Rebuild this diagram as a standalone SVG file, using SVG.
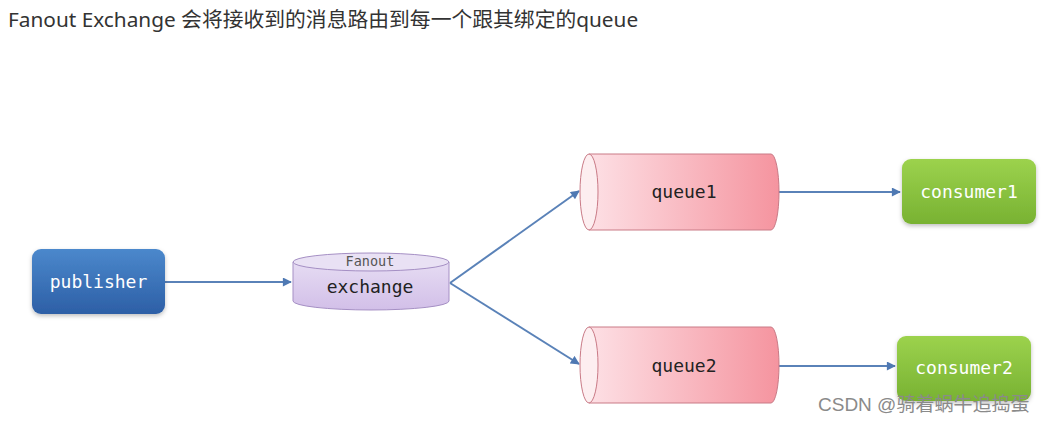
<svg xmlns="http://www.w3.org/2000/svg" width="1044" height="424" viewBox="0 0 1044 424">
<defs>
<linearGradient id="gBlue" x1="0" y1="0" x2="0" y2="1"><stop offset="0" stop-color="#4b88cc"/><stop offset="1" stop-color="#2d5fa6"/></linearGradient>
<linearGradient id="gGreen" x1="0" y1="0" x2="0" y2="1"><stop offset="0" stop-color="#9cd24d"/><stop offset="1" stop-color="#78b232"/></linearGradient>
<linearGradient id="gPurple" x1="0" y1="0" x2="0" y2="1"><stop offset="0" stop-color="#e6dcf3"/><stop offset="1" stop-color="#d2bfe8"/></linearGradient>
<linearGradient id="gPink" x1="0" y1="0" x2="1" y2="0"><stop offset="0" stop-color="#fde0e5"/><stop offset="1" stop-color="#f5949f"/></linearGradient>
<marker id="arr" viewBox="0 0 10 10" refX="9" refY="5" markerWidth="10" markerHeight="9" markerUnits="userSpaceOnUse" orient="auto"><path d="M0,0 L10,5 L0,10 z" fill="#4f79b3"/></marker>
<filter id="sh" x="-10%" y="-10%" width="120%" height="130%"><feDropShadow dx="0" dy="2" stdDeviation="2" flood-color="#000" flood-opacity="0.25"/></filter>
</defs>
<style>
.mono{font-family:"DejaVu Sans Mono","Liberation Mono",monospace;}
.lbl{font-size:18px;fill:#fff;text-anchor:middle;}
.dlbl{font-size:18px;fill:#222;text-anchor:middle;}
.conn{stroke:#5a82b8;stroke-width:2;fill:none;marker-end:url(#arr);}
</style>
<rect width="1044" height="424" fill="#fff"/>
<text x="8" y="27" font-family="Noto Sans, Noto Sans CJK SC, sans-serif" font-size="20.8" fill="#333">Fanout Exchange 会将接收到的消息路由到每一个跟其绑定的queue</text>
<g id="connectors">
<line class="conn" x1="165" y1="282" x2="291" y2="282"/>
<line class="conn" x1="450" y1="283" x2="579" y2="191"/>
<line class="conn" x1="450" y1="283" x2="579" y2="364"/>
<line class="conn" x1="779" y1="192" x2="900" y2="192"/>
<line class="conn" x1="779" y1="366" x2="895" y2="366"/>
</g>
<g id="publisher">
<rect x="32" y="249" width="133" height="65" rx="9" fill="url(#gBlue)" filter="url(#sh)"/>
<text class="mono lbl" x="98.5" y="288">publisher</text>
</g>
<g id="exchange">
<path d="M293,262 L293,301 A78,9 0 0 0 449,301 L449,262 Z" fill="url(#gPurple)" stroke="#a58fc4" stroke-width="1"/>
<ellipse cx="371" cy="262" rx="78" ry="9" fill="#e9e1f4" stroke="#a58fc4" stroke-width="1"/>
<text class="mono" x="370" y="266" font-size="13.5" fill="#555" text-anchor="middle">Fanout</text>
<text class="mono dlbl" x="370" y="293">exchange</text>
</g>
<g id="queue1">
<path d="M589,154 L771,154 A8,38 0 0 1 771,230 L589,230 Z" fill="url(#gPink)" stroke="#c97a86" stroke-width="1"/>
<ellipse cx="589" cy="192" rx="9" ry="38" fill="#fdeef0" stroke="#c97a86" stroke-width="1"/>
<text class="mono dlbl" x="684" y="198">queue1</text>
</g>
<g id="queue2">
<path d="M589,327 L771,327 A8,38 0 0 1 771,403 L589,403 Z" fill="url(#gPink)" stroke="#c97a86" stroke-width="1"/>
<ellipse cx="589" cy="365" rx="9" ry="38" fill="#fdeef0" stroke="#c97a86" stroke-width="1"/>
<text class="mono dlbl" x="684" y="372">queue2</text>
</g>
<g id="consumer1">
<rect x="902" y="159" width="134" height="65" rx="9" fill="url(#gGreen)" filter="url(#sh)"/>
<text class="mono lbl" x="969" y="198">consumer1</text>
</g>
<g id="consumer2">
<rect x="897" y="336" width="134" height="65" rx="9" fill="url(#gGreen)" filter="url(#sh)"/>
<text class="mono lbl" x="964" y="374">consumer2</text>
</g>
<text x="818" y="411" font-family="Liberation Sans, Noto Sans CJK SC, sans-serif" font-size="19" fill="#8a8a8a">CSDN @骑着蜗牛追捣蛋</text>
</svg>
